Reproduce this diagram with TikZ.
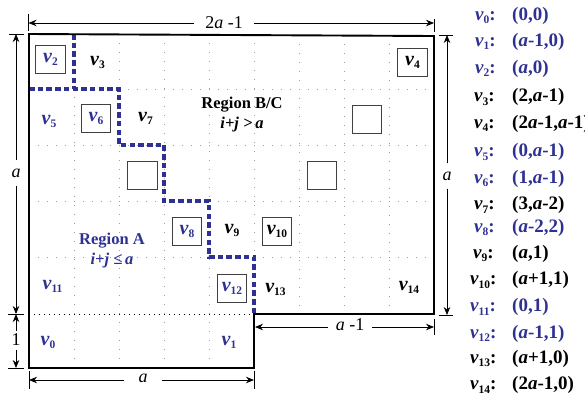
\documentclass[tikz,border=0pt]{standalone}
\usepackage{fontspec}
\setmainfont{Liberation Serif}
\usetikzlibrary{arrows.meta}
\definecolor{rblue}{RGB}{46,49,146}
\newcommand{\vtag}[3]{{\itshape v}\raisebox{-#3}{\fontsize{#2}{#2}\selectfont #1}}
\newcommand{\gv}[1]{\vtag{#1}{11.5}{3pt}}
\newcommand{\lv}[1]{\vtag{#1}{11.5}{3.5pt}:}
\begin{document}
\begin{tikzpicture}[x=1pt,y=-1pt,
  outline/.style={line width=1.9pt, line join=miter},
  gridln/.style={gray!75, line width=0.7pt, dash pattern=on 0.8pt off 8.2pt},
  stair/.style={rblue, line width=3.4pt, dash pattern=on 5.5pt off 3.2pt},
  cellbox/.style={draw=black!75, line width=1pt, minimum width=29.5pt, minimum height=28pt, inner sep=0pt, font=\fontsize{20}{22}\selectfont\bfseries},
  vl/.style={font=\fontsize{20}{22}\selectfont\bfseries, inner sep=0pt},
  dim/.style={line width=0.8pt, -{Stealth[length=8pt,width=6.5pt]}},
  tickln/.style={line width=0.8pt},
  dlab/.style={font=\fontsize{18}{20}\selectfont, inner sep=0pt},
  lst/.style={font=\fontsize{19}{21}\selectfont\bfseries, inner sep=0pt, anchor=base west},
  reg/.style={font=\fontsize{16.5}{20}\selectfont\bfseries, align=center, inner sep=0pt},
]
\useasboundingbox (0,0) rectangle (585,400);

% grid
\foreach \x in {74,119,164,209} \draw[gridln] (\x,34) -- (\x,368);
\draw[gridln] (254,34) -- (254,314);
\foreach \x in {299,344,389} \draw[gridln] (\x,35) -- (\x,314);
\foreach \y in {89,145,201,257} \draw[gridln] (29,\y) -- (434,\y);
\draw[line width=0.9pt, dash pattern=on 1.2pt off 3.8pt] (29,314) -- (254,314);

% staircase
\draw[stair] (74,34) -- (74,89);
\draw[stair] (29,89) -- (119,89) -- (119,145) -- (164,145) -- (164,201) -- (209,201) -- (209,257) -- (254,257) -- (254,314);

% outline
\draw[outline] (29,34) -- (434,36) -- (434,314) -- (254,314) -- (254,368) -- (29,368) -- cycle;

% boxes
\node[cellbox, text=rblue] (b2) at (50.5,59) {\gv{2}};
\node[cellbox] (b4) at (412.5,62) {\gv{4}};
\node[cellbox, text=rblue] (b6) at (96,118) {\gv{6}};
\node[cellbox] (e1) at (367,119) {};
\node[cellbox] (e2) at (142.5,175) {};
\node[cellbox] (e3) at (322,175) {};
\node[cellbox, text=rblue] (b8) at (187,231) {\gv{8}};
\node[cellbox] (b10) at (277,231) {\gv{10}};
\node[cellbox, text=rblue] (b12) at (232,288) {\gv{12}};

% free labels
\node[vl] (n3) at (97.5,62) {\gv{3}};
\node[vl, text=rblue] (n5) at (49,121) {\gv{5}};
\node[vl] (n7) at (145.5,118) {\gv{7}};
\node[vl] (n9) at (232,230) {\gv{9}};
\node[vl, text=rblue] (n11) at (52.5,286) {\gv{11}};
\node[vl] (n13) at (275.5,289) {\gv{13}};
\node[vl] (n14) at (409,287) {\gv{14}};
\node[vl, text=rblue] (n0) at (48,342) {\gv{0}};
\node[vl, text=rblue] (n1) at (229,342) {\gv{1}};

% region labels
\node[reg] (rbc) at (242,115) {Region B/C\\\textit{i+j >\,a}};
\node[reg, text=rblue] (ra) at (112,250.5) {Region A\\\textit{i+j \char"2264\,a}};

% dimensions
% top
\node[dlab] (dtop) at (224,23) {2\textit{a} -1};
\coordinate (dtl) at (28.5,23); \coordinate (dtr) at (434,23);
\draw[dim] (dtop.west) ++(-11,0) coordinate (dtw) (dtw) -- (dtl);
\draw[dim] (dtop.east) ++(11,0) coordinate (dte) (dte) -- (dtr);
\draw[tickln] (28.5,14) -- (28.5,31);
\draw[tickln] (434,19) -- (434,32);
% left a
\node[dlab] (dla) at (16,173) {\textit{a}};
\coordinate (dlt) at (16,34); \coordinate (dlb) at (16,314);
\draw[dim] (dla.north) ++(0,-8) coordinate (dlan) (dlan) -- (dlt);
\draw[dim] (dla.south) ++(0,8) coordinate (dlas) (dlas) -- (dlb);
\draw[tickln] (9,34) -- (24,34);
\draw[tickln] (8,314) -- (24,314);
\draw[tickln] (8,368) -- (24,368);
% left 1
\node[dlab] (dl1) at (16,340) {1};
\coordinate (d1t) at (16,314); \coordinate (d1b) at (16,368);
\draw[dim] (dl1.north) ++(0,-3) coordinate (d1n) (d1n) -- (d1t);
\draw[dim] (dl1.south) ++(0,4) coordinate (d1s) (d1s) -- (d1b);
% bottom a
\node[dlab] (dba) at (143,378) {\textit{a}};
\coordinate (dbl) at (29,380); \coordinate (dbr) at (254,380);
\draw[dim] (dba.west |- dbl) ++(-14,0) coordinate (dbw) (dbw) -- (dbl);
\draw[dim] (dba.east |- dbr) ++(14,0) coordinate (dbe) (dbe) -- (dbr);
\draw[tickln] (29,371) -- (29,389);
\draw[tickln] (254,371) -- (254,389);
% right a
\node[dlab] (dra) at (447,176) {\textit{a}};
\coordinate (drt) at (447,35); \coordinate (drb) at (447,315);
\draw[dim] (dra.north) ++(0,-8) coordinate (dran) (dran) -- (drt);
\draw[dim] (dra.south) ++(0,8) coordinate (dras) (dras) -- (drb);
\draw[tickln] (439,35) -- (453,35);
\draw[tickln] (439,315.5) -- (453,315.5);
% a-1
\node[dlab] (dam) at (350,325) {\textit{a} -1};
\coordinate (daml) at (255,327); \coordinate (damr) at (434,327);
\draw[dim] (dam.west |- daml) ++(-8,0) coordinate (damw) (damw) -- (daml);
\draw[dim] (dam.east |- damr) ++(8,0) coordinate (dame) (dame) -- (damr);
\draw[tickln] (434,319) -- (434,335);

% list
\foreach \i/\y/\xl/\col/\txt in {
  0/20/475/rblue/{(0,0)},
  1/46/475/rblue/{(\textit{a}-1,0)},
  2/73/475/rblue/{(\textit{a},0)},
  3/101.5/474/black/{(2,\textit{a}-1)},
  4/128/474/black/{(2\textit{a}-1,\textit{a}-1)},
  5/156.5/474/rblue/{(0,\textit{a}-1)},
  6/183/474/rblue/{(1,\textit{a}-1)},
  7/209.5/474/black/{(3,\textit{a}-2)},
  8/232/474/rblue/{(\textit{a}-2,2)},
  9/258/473/black/{(\textit{a},1)},
  10/284.5/470/black/{(\textit{a}+1,1)},
  11/311.5/470/rblue/{(0,1)},
  12/338/470/rblue/{(\textit{a}-1,1)},
  13/363/470/black/{(\textit{a}+1,0)},
  14/389.5/470/black/{(2\textit{a}-1,0)}} {
  \node[lst, text=\col] (l\i) at (\xl,\y) {\lv{\i}};
  \node[lst, text=\col] (c\i) at (512,\y) {\txt};
}
\end{tikzpicture}
\end{document}
